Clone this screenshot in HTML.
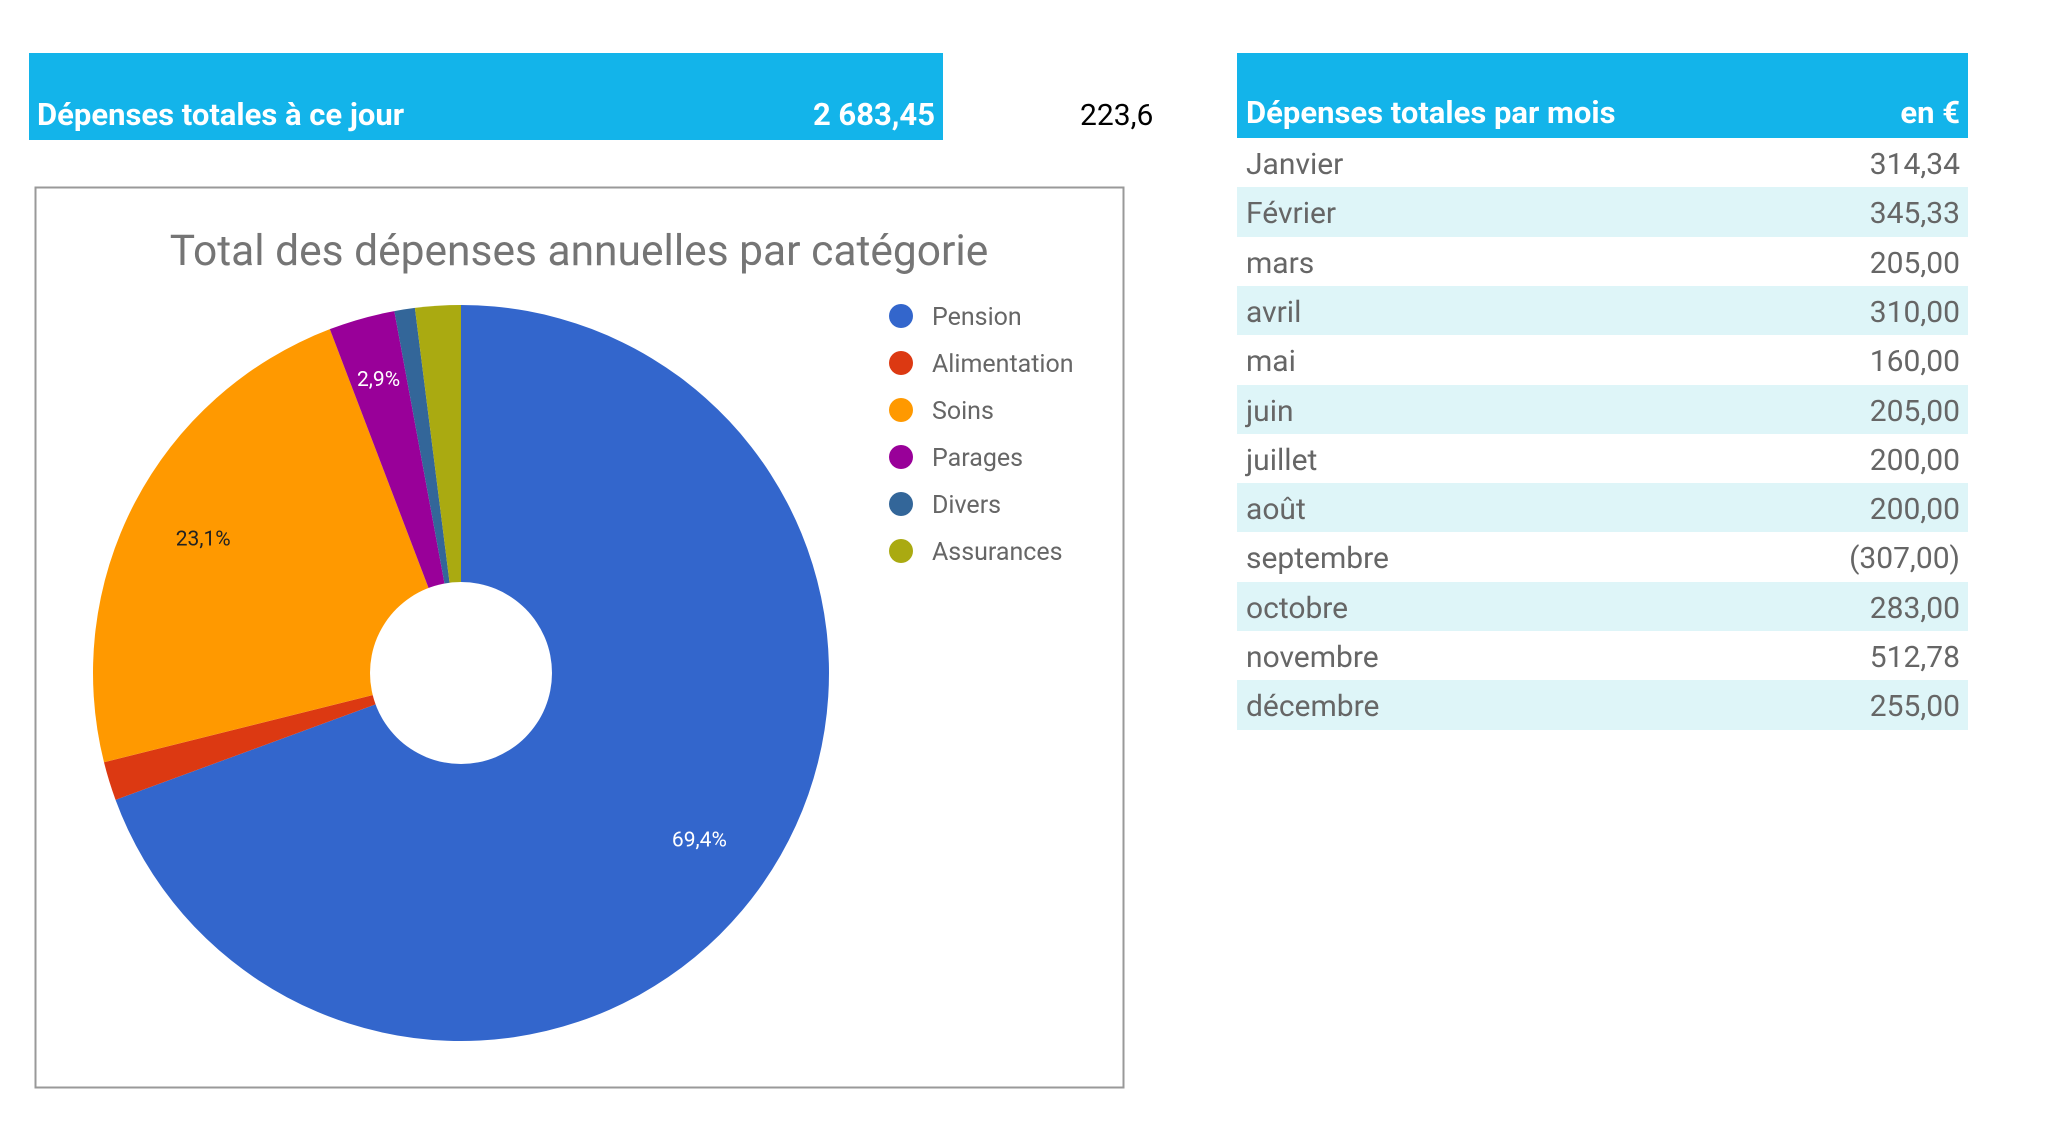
<!DOCTYPE html>
<html><head><meta charset="utf-8"><style>
body{margin:0;width:2048px;height:1140px;background:#fff;position:relative;overflow:hidden;font-family:"Roboto","Liberation Sans",sans-serif}
.hdr{position:absolute;background:#13b4ea;color:#fff;font-weight:bold;font-size:31px;box-sizing:border-box}
.hdr span{position:absolute;bottom:7px}
.row{position:absolute;left:1237px;width:731px;height:49.3px;font-size:30px;color:#666;line-height:53px}
.row .m{position:absolute;left:9px}.row .v{position:absolute;right:8px}
</style></head><body>
<div class="hdr" style="left:29px;top:53px;width:914px;height:87px">
<span style="left:8px">Dépenses totales à ce jour</span>
<span style="right:8px">2 683,45</span></div>
<div style="position:absolute;left:1080px;top:98px;font-size:30px;color:#000">223,6</div>
<div class="hdr" style="left:1237px;top:53px;width:731px;height:85px">
<span style="left:9px">Dépenses totales par mois</span><span style="right:8px">en €</span></div>
<div id="rows"></div>
<svg id="chart" style="position:absolute;left:0;top:0" width="2048" height="1140">
<rect x="35.5" y="187.5" width="1088" height="900" fill="#fff" stroke="#999" stroke-width="2"/>
<text x="579" y="265" text-anchor="middle" font-size="42.5" fill="#757575" font-family="Roboto,Liberation Sans,sans-serif">Total des dépenses annuelles par catégorie</text>
</svg>
<script>
const months=["Janvier","Février","mars","avril","mai","juin","juillet","août","septembre","octobre","novembre","décembre"];
const monthValues=["314,34","345,33","205,00","310,00","160,00","205,00","200,00","200,00","(307,00)","283,00","512,78","255,00"];
const categories=["Pension","Alimentation","Soins","Parages","Divers","Assurances"];
const shares=[69.4,1.7,23.1,2.9,0.9,2.0];
const colors=["#3366cc","#dc3912","#ff9900","#990099","#336699","#aaaa11"];
const labelColors=["#fff","#fff","#222","#fff","#fff","#fff"];
const rows=document.getElementById('rows');
months.forEach((m,i)=>{
 const d=document.createElement('div');d.className='row';
 
 
 d.style.top=(138+i*49.3)+'px';d.style.background=i%2?'#def5f8':'#fff';
 d.innerHTML='<span class="m">'+m+'</span><span class="v">'+monthValues[i]+'</span>';
 rows.appendChild(d);
});
const svg=document.getElementById('chart');const NS='http://www.w3.org/2000/svg';
const cx=461,cy=673,R=368,r0=91;
const total=shares.reduce((a,b)=>a+b,0);
function pt(a,rad){return [cx+rad*Math.sin(a),cy-rad*Math.cos(a)];}
let a0=0;
shares.forEach((v,i)=>{
 const a1=a0+v/total*2*Math.PI;
 const [x0,y0]=pt(a0,R),[x1,y1]=pt(a1,R);
 const p=document.createElementNS(NS,'path');
 p.setAttribute('d',`M${cx},${cy}L${x0},${y0}A${R},${R} 0 ${a1-a0>Math.PI?1:0} 1 ${x1},${y1}Z`);
 p.setAttribute('fill',colors[i]);
 
 
 svg.appendChild(p);
 if(v>=2.5){
  const [lx,ly]=pt((a0+a1)/2,R*(v<5?0.83:0.79));
  const t=document.createElementNS(NS,'text');
  t.setAttribute('x',lx);t.setAttribute('y',ly+7);t.setAttribute('text-anchor','middle');
  t.setAttribute('font-size','21');t.setAttribute('fill',labelColors[i]);
  t.setAttribute('font-family','Roboto,Liberation Sans,sans-serif');
  t.textContent=v.toFixed(1).replace('.',',')+'%';
  
  
  svg.appendChild(t);
 }
 a0=a1;
});
const hole=document.createElementNS(NS,'circle');
hole.setAttribute('cx',cx);hole.setAttribute('cy',cy);hole.setAttribute('r',r0);hole.setAttribute('fill','#fff');


svg.appendChild(hole);
categories.forEach((c,i)=>{
 const g=document.createElementNS(NS,'g');
 
 
 const y=316+i*47;
 g.innerHTML=`<circle cx="901" cy="${y}" r="12" fill="${colors[i]}"/><text x="932" y="${y+9}" font-size="25" fill="#666" font-family="Roboto,Liberation Sans,sans-serif">${c}</text>`;
 svg.appendChild(g);
});
</script>
</body></html>
